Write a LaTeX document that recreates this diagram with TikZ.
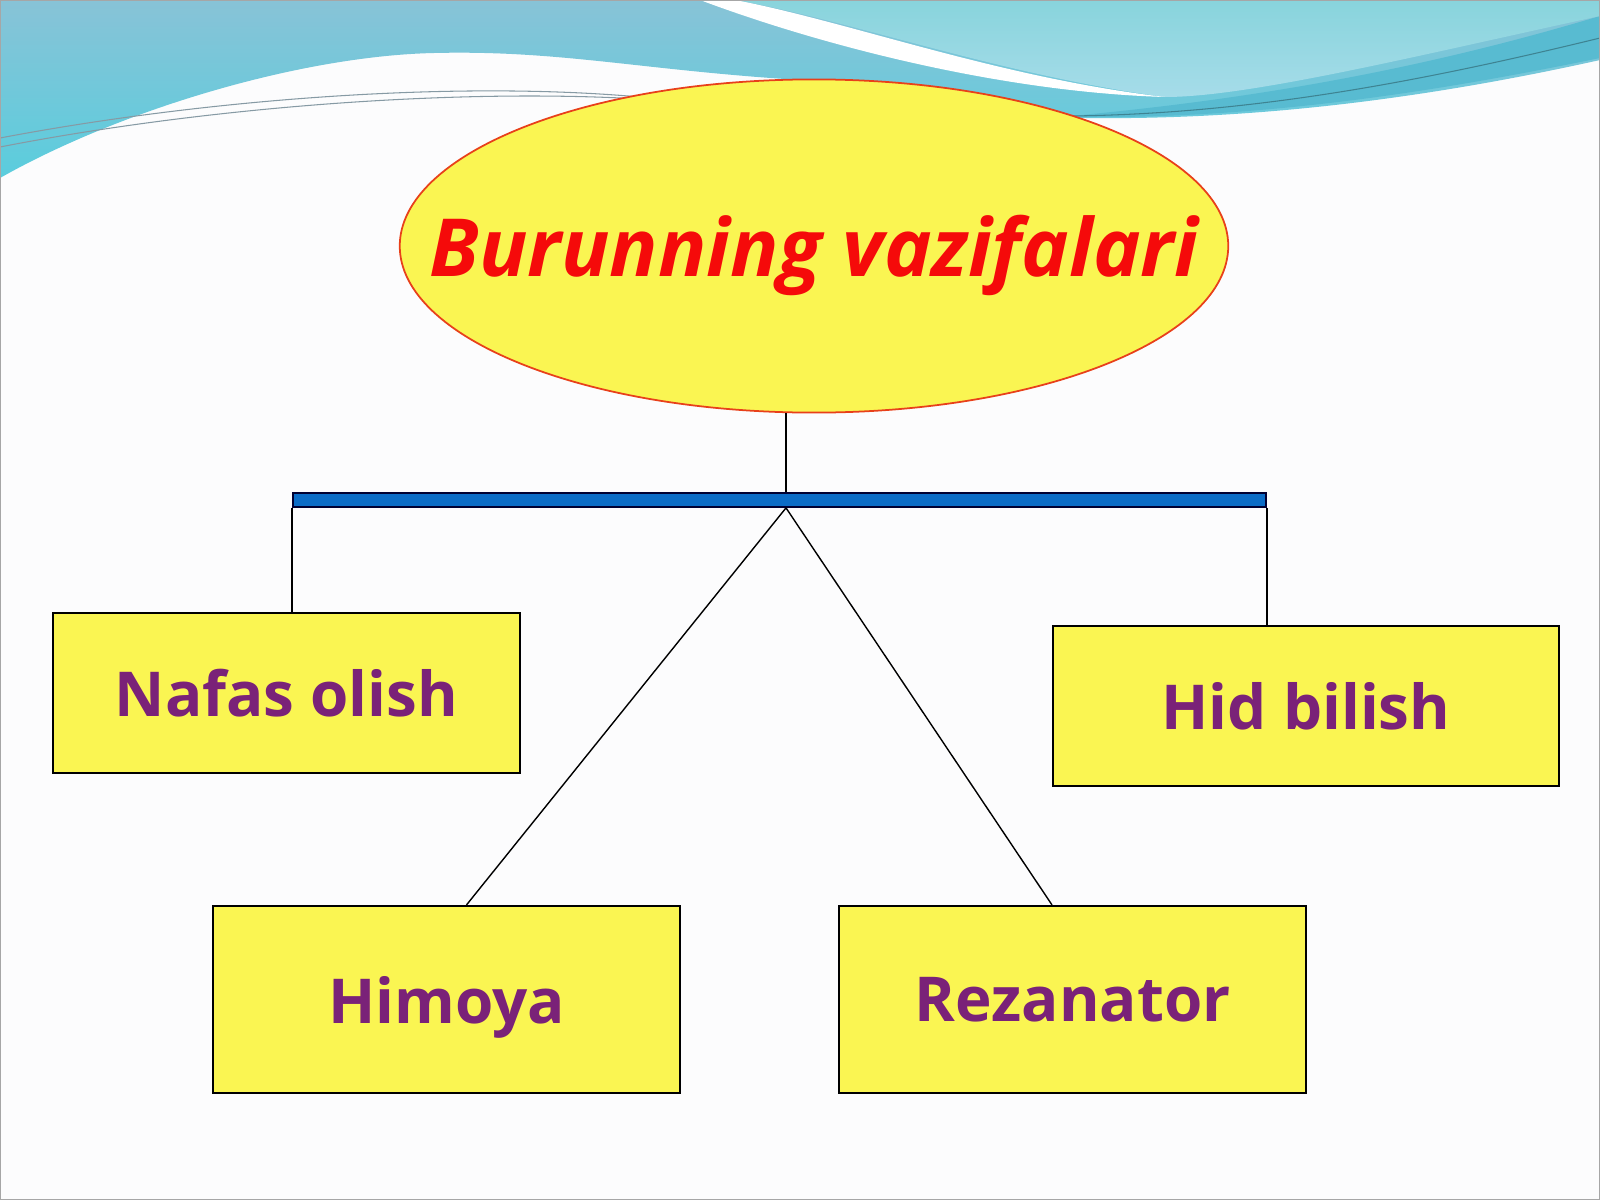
\documentclass[tikz,border=0pt]{standalone}
\usepackage{fontspec}
\setmainfont{Open Sans}
\usetikzlibrary{shapes.geometric}
\definecolor{boxyellow}{HTML}{FAF552}
\definecolor{boxtext}{HTML}{7A2278}
\definecolor{titlered}{HTML}{F50A0A}
\definecolor{ovalline}{HTML}{E8401A}
\definecolor{barblue}{HTML}{0B6CC7}
\definecolor{wavetop}{HTML}{88C3D7}
\definecolor{wavelow}{HTML}{5ACDDD}
\definecolor{lighttop}{HTML}{88D4DC}
\definecolor{lightlow}{HTML}{A6DCE9}
\definecolor{waveband}{HTML}{58BBD1}
\definecolor{paper}{HTML}{FCFCFD}

\begin{document}
\begin{tikzpicture}[x=0.01cm,y=-0.01cm,
  task/.style={draw=black,line width=0.6pt,fill=boxyellow,text=boxtext,minimum width=4.67cm,minimum height=1.6cm,inner sep=0pt,text depth=0pt,font=\fontsize{17.6pt}{21pt}\selectfont\bfseries},
  link/.style={draw=black,line width=0.4pt}]
\useasboundingbox (0,0) rectangle (1600,1200);
\fill[color=paper] (0,0) rectangle (1600,1200);
% waves at the top
\shade[top color=wavetop,bottom color=wavelow] (0,0) -- (1600,0) -- (1600,60) .. controls (1420,100) and (1250,120) .. (1086,118) .. controls (980,116) and (900,88) .. (800,80) .. controls (640,70) and (560,50) .. (434,53) .. controls (300,56) and (120,110) .. (0,178) -- cycle;
\fill[color=waveband] (1060,117) .. controls (1250,120) and (1420,95) .. (1600,58) -- (1600,16) .. controls (1420,70) and (1250,100) .. (1060,117) -- cycle;
\draw[color=waveband!70!black,line width=0.3pt] (1070,116) .. controls (1250,114) and (1420,82) .. (1600,38);
\shade[top color=lighttop,bottom color=lightlow] (735,0) .. controls (850,20) and (1000,75) .. (1165,97) .. controls (1250,97) and (1420,55) .. (1600,16) -- (1600,0) -- cycle;
\fill[color=white] (735,0) .. controls (850,22) and (1000,78) .. (1165,97) .. controls (1000,92) and (820,45) .. (700,0) -- cycle;
\draw[color=gray!80!cyan,line width=0.3pt] (0,138) .. controls (200,100) and (450,80) .. (640,97);
\draw[color=gray!80!cyan,line width=0.3pt] (0,147) .. controls (200,108) and (450,88) .. (640,99);
% \draw[color=gray] (0,0) rectangle (1600,1200);
\node[ellipse,draw=ovalline,line width=0.5pt,fill=boxyellow,minimum width=8.28cm,minimum height=3.33cm,inner sep=0pt,text=titlered,text depth=0pt,font=\fontsize{22.8pt}{27pt}\selectfont\bfseries\itshape] (title) at (814,246) {\makebox[0pt]{Burunning vazifalari}};
\node[draw=black!80!blue,fill=barblue,line width=0.5pt,minimum width=9.73cm,minimum height=0.14cm,inner sep=0pt] (bar) at (779.5,500) {};
\coordinate (hub) at (786,500);
\node[task] (nafas) at (286.5,693) {Nafas olish};
\node[task,minimum width=5.06cm] (hid) at (1306,706) {Hid bilish};
\node[task,minimum height=1.87cm] (himoya) at (446.5,999.5) {Himoya};
\node[task,minimum height=1.87cm] (rezanator) at (1072.5,999.5) {Rezanator};
\draw[link] (title.south -| hub) -- (bar.north -| hub);
\draw[link] (bar.south -| hub) -- ([xshift=0.2cm]himoya.north);
\draw[link] (bar.south -| hub) -- ([xshift=-0.205cm]rezanator.north);
\draw[link] (bar.south west) -- (bar.south west |- nafas.north);
\draw[link] (bar.south east) -- (bar.south east |- hid.north);
\draw[color=gray!70] (0,0) rectangle (1600,1200);
\end{tikzpicture}
\end{document}
